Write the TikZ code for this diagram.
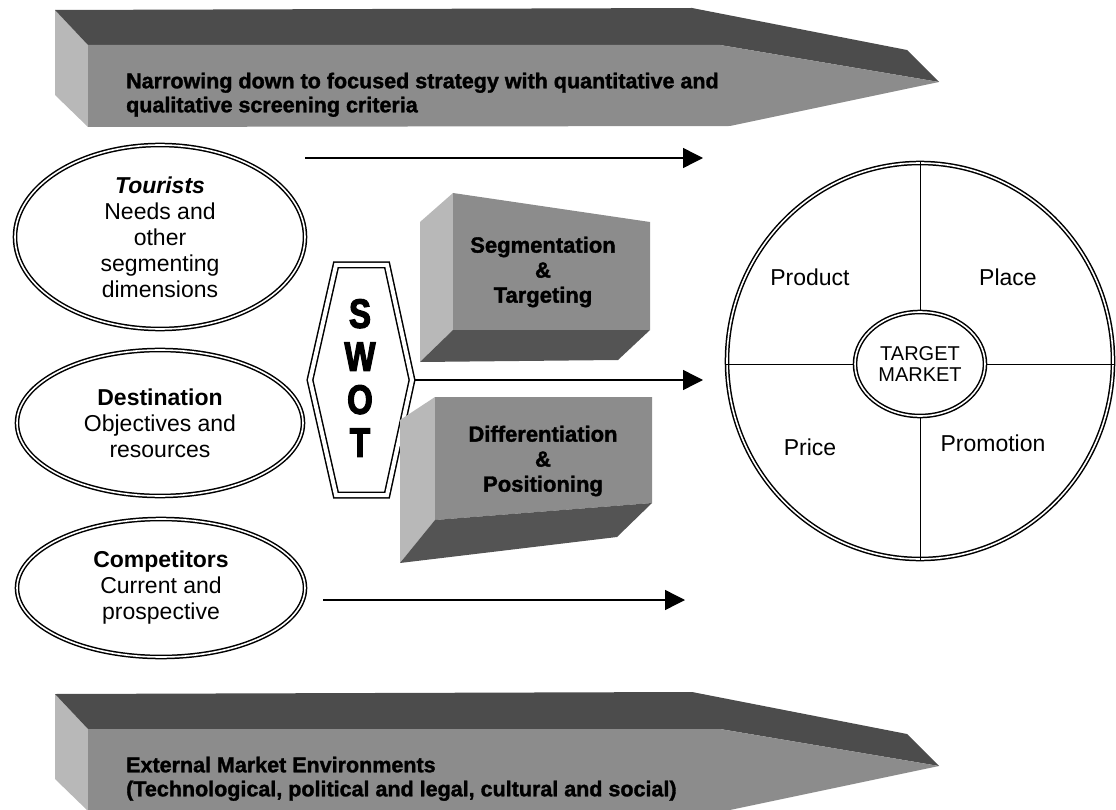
\documentclass[tikz,border=0pt]{standalone}
\usepackage{fontspec}
\setmainfont{Liberation Sans}
\newfontfamily\heavyfont{Liberation Sans}[UprightFont={* Bold},FakeBold=1.5]
\newfontfamily\swotfont{Liberation Sans}[UprightFont={* Bold},FakeBold=3,FakeStretch=0.8]
\usetikzlibrary{shapes.geometric,arrows.meta}
\definecolor{topgray}{gray}{0.30}
\definecolor{frontgray}{gray}{0.55}
\definecolor{sidegray}{gray}{0.72}
\definecolor{basegray}{gray}{0.33}

\begin{document}
\begin{tikzpicture}[x=1pt,y=1pt,yscale=-1,xscale=1,
	ring/.style={draw, double, double distance=1.6pt, line width=1.5pt},
	factor/.style={ellipse, ring, align=center, inner sep=0pt, font=\fontsize{23}{26}\selectfont},
	slice/.style={font=\fontsize{23}{26}\selectfont},
	flow/.style={line width=1.4pt, -{Triangle[length=20pt,width=20pt]}},
	bandtext/.style={anchor=north west, align=left, inner sep=0pt, font=\heavyfont\fontsize{21.5}{24}\selectfont},
	boxtext/.style={align=center, inner sep=0pt, font=\heavyfont\fontsize{22}{25}\selectfont}]
		\useasboundingbox (0,0) rectangle (1116,810);
		% narrowing band
		\fill[sidegray] (55,10) -- (88,45) -- (88,127) -- (55,95) -- cycle;
		\fill[topgray] (55,10) -- (692,8) -- (907,50) -- (939,82) -- (720,45) -- (88,45) -- cycle;
		\fill[frontgray] (88,45) -- (720,45) -- (939,82) -- (730,126) -- (88,127) -- cycle;
		\node[bandtext] (narrow) at (126,72.5) {Narrowing down to focused strategy with quantitative and\\qualitative screening criteria};
		% environment band
		\begin{scope}[shift={(0,684)}]
		\fill[sidegray] (55,10) -- (88,45) -- (88,127) -- (55,95) -- cycle;
		\fill[topgray] (55,10) -- (692,8) -- (907,50) -- (939,82) -- (720,45) -- (88,45) -- cycle;
		\fill[frontgray] (88,45) -- (720,45) -- (939,82) -- (730,126) -- (88,127) -- cycle;
		\end{scope}
		\node[bandtext] (extern) at (126,756.5) {External Market Environments\\(Technological, political and legal, cultural and social)};
		% inputs
		\node[factor, minimum width=290pt, minimum height=184pt] (tourists) at (160,237) {\textbf{\textit{Tourists}}\\Needs and\\other\\segmenting\\dimensions};
		\node[factor, minimum width=286pt, minimum height=146pt] (destination) at (160,423) {\textbf{Destination}\\Objectives and\\resources};
		\node[factor, minimum width=288pt, minimum height=138pt] (competitors) at (161,588) {\textbf{Competitors}\\Current and\\prospective};
		% swot
		\draw[ring, double distance=4pt, line width=1.5pt] (336,265) -- (387,265) -- (412,380) -- (387,495) -- (336,495) -- (310,380) -- cycle;
		\node[align=center, inner sep=0pt, font=\swotfont\fontsize{41}{43}\selectfont] (swot) at (360,378) {S\\W\\O\\T};
		\coordinate (swotE) at (415,380);
		% blocks
		\fill[sidegray] (420,222) -- (453,193) -- (453,330) -- (420,362) -- cycle;
		\fill[frontgray] (453,193) -- (650,222) -- (650,330) -- (453,330) -- cycle;
		\fill[basegray] (453,330) -- (650,330) -- (618,360) -- (420,362) -- cycle;
		\node[boxtext] (segment) at (543,272) {Segmentation\\\&\\Targeting};
		\fill[sidegray] (400,420) -- (435,397) -- (435,520) -- (400,563) -- cycle;
		\fill[frontgray] (435,397) -- (652,397) -- (652,503) -- (435,520) -- cycle;
		\fill[basegray] (435,520) -- (652,503) -- (617,537) -- (400,563) -- cycle;
		\node[boxtext] (differ) at (543,461) {Differentiation\\\&\\Positioning};
		% arrows
		\coordinate (upS) at (305,158);
		\coordinate (upE) at (703,158);
		\coordinate (midE) at (703,380);
		\coordinate (lowS) at (323,600);
		\coordinate (lowE) at (685,600);
		\draw[flow] (upS) -- (upE);
		\draw[flow] (swotE) -- (midE);
		\draw[flow] (lowS) -- (lowE);
		% marketing mix
		\node[ellipse, ring, minimum width=386pt, minimum height=396pt] (mix) at (920,361) {};
		\node[ellipse, ring, minimum width=130pt, minimum height=104pt, align=center, inner sep=0pt, font=\fontsize{20}{21}\selectfont] (market) at (920,364) {TARGET\\MARKET};
		\draw[line width=1pt] (mix.north) -- (market.north);
		\draw[line width=1pt] (market.south) -- (mix.south);
		\draw[line width=1pt] (market.west -| mix.west) -- (market.west);
		\draw[line width=1pt] (market.east) -- (market.east -| mix.east);
		\node[slice] (product) at (810,277) {Product};
		\node[slice] (place) at (1008,277) {Place};
		\node[slice] (price) at (810,447) {Price};
		\node[slice] (promotion) at (993,443) {Promotion};
\end{tikzpicture}
\end{document}
